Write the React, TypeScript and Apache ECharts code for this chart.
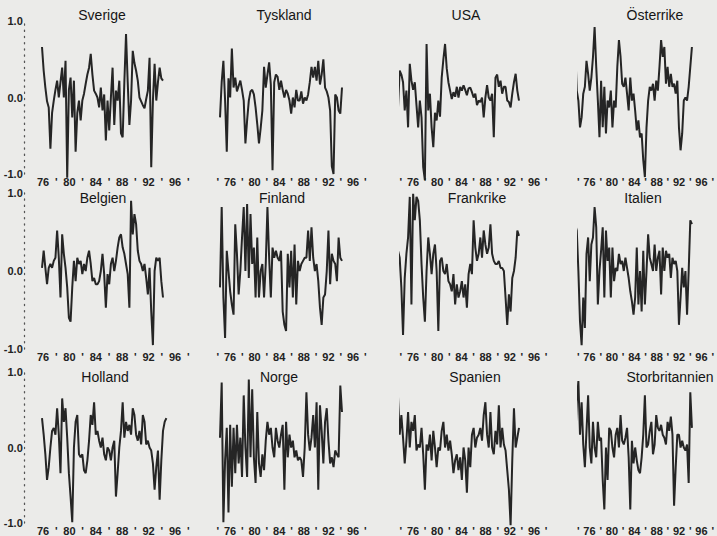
import React, { useEffect, useRef } from "react";
import * as echarts from "echarts";

// ---- data (quarterly values, starting 1976) ----
const startYear = 1976;
const stepYears = 0.25;

const countries = [
  "Sverige", "Tyskland", "USA", "Österrike",
  "Belgien", "Finland", "Frankrike", "Italien",
  "Holland", "Norge", "Spanien", "Storbritannien",
];

const sverige = [
  0.66, 0.35, 0.13, -0.05, -0.13, -0.67, -0.2, -0.04, 0.1, 0.22,
  0.0, 0.2, 0.39, 0.0, 0.48, -1.05, 0.1, 0.26, -0.26, 0.22,
  -0.71, -0.2, -0.04, -0.3, -0.04, 0.05, 0.18, 0.3, 0.39, 0.57,
  0.3, 0.09, 0.05, 0.0, -0.13, 0.13, -0.17, 0.04, -0.56, -0.04,
  -0.43, 0.0, 0.39, -0.36, 0.09, -0.04, 0.22, -0.47, -0.52, 0.2,
  0.83, 0.2, -0.36, -0.04, 0.61, 0.45, 0.35, 0.22, 0.0, -0.05,
  -0.1, -0.14, -0.02, 0.09, 0.52, -0.91, -0.04, 0.44, -0.04, 0.2,
  0.39, 0.25, 0.22,
];
const tyskland = [
  -0.26, 0.2, 0.48, -0.04, -0.71, 0.25, 0.0, 0.64, 0.13, 0.26,
  0.08, 0.15, 0.22, 0.1, -0.04, -0.6, -0.3, -0.04, 0.08, 0.1,
  0.04, -0.13, -0.35, -0.6, -0.4, -0.17, 0.4, 0.13, 0.3, 0.46,
  0.17, -0.95, 0.2, 0.3, 0.27, 0.1, 0.22, 0.1, 0.0, 0.1,
  0.05, -0.04, -0.21, 0.0, -0.13, 0.1, -0.04, -0.04, 0.08, -0.08,
  0.0, -0.04, 0.04, 0.2, 0.4, 0.26, 0.4, 0.22, 0.48, 0.17,
  0.3, 0.5, 0.13, 0.08, 0.0, -0.17, -0.9, -1.0, 0.04, 0.0,
  -0.17, -0.21, 0.13,
];
const usa = [
  -0.13, 0.35, 0.3, 0.2, -0.17, 0.09, -0.39, 0.44, 0.22, 0.1,
  0.2, -0.1, -0.39, -0.04, -0.26, -0.91, -1.08, 0.7, -0.17, 0.05,
  -0.39, -0.65, -0.2, -0.3, -0.04, -0.25, 0.26, 0.5, 0.7, 0.38,
  0.2, 0.09, -0.02, 0.07, 0.01, 0.14, 0.0, 0.14, 0.09, 0.16,
  0.1, 0.03, 0.12, 0.13, 0.07, 0.0, 0.05, -0.1, -0.04, -0.06,
  0.0, -0.26, 0.0, 0.16, 0.0, -0.04, 0.05, -0.52, 0.26, 0.3,
  0.14, 0.22, 0.05, 0.14, 0.14, -0.04, -0.06, -0.13, 0.05, 0.2,
  0.31, 0.09, -0.04,
];
const osterrike = [
  0.64, 0.09, -0.04, -0.39, -0.26, 0.05, 0.14, 0.48, 0.31, 0.09,
  0.26, 0.53, 0.92, 0.4, -0.04, -0.52, 0.22, -0.39, 0.14, -0.47,
  -0.04, -0.13, 0.09, -0.39, -0.04, -0.13, 0.4, 0.75, 0.53, 0.18,
  0.14, 0.26, 0.05, -0.17, 0.26, -0.04, 0.05, -0.17, -0.43, -0.3,
  -0.52, -0.47, -0.82, -1.04, -0.39, -0.04, 0.14, 0.09, 0.18, -0.04,
  0.22, 0.09, 0.4, 0.75, 0.53, 0.66, 0.18, 0.4, 0.14, 0.31,
  0.14, 0.18, 0.05, 0.22, -0.39, -0.69, -0.47, -0.04, 0.0, -0.04,
  0.14, 0.4, 0.66,
];
const belgien = [
  0.04, 0.26, 0.04, -0.17, 0.04, 0.09, 0.04, 0.13, 0.17, 0.52,
  0.17, -0.34, 0.47, 0.22, 0.04, -0.21, -0.6, -0.65, -0.21, 0.13,
  -0.13, 0.17, 0.09, 0.13, -0.04, 0.09, 0.0, 0.17, 0.26, 0.09,
  -0.13, -0.09, -0.17, -0.17, -0.13, 0.0, 0.22, -0.04, -0.47, -0.04,
  -0.17, 0.09, 0.17, 0.0, 0.13, 0.3, 0.43, 0.47, 0.3, 0.22,
  0.09, -0.04, -0.47, 0.9, 0.47, 0.73, 0.6, 0.26, 0.13, 0.09,
  0.0, 0.09, -0.09, -0.3, 0.04, -0.52, -0.95, 0.0, 0.17, 0.13,
  0.17, -0.13, -0.34,
];
const finland = [
  -0.21, 0.82, -0.34, -0.86, 0.26, 0.0, -0.26, -0.43, -0.56, 0.6,
  0.22, -0.3, 0.0, 0.43, 0.82, 0.0, 0.86, -0.09, 0.73, 0.09,
  0.3, -0.34, 0.43, -0.34, 0.0, 0.09, -0.34, 0.09, 0.82, 0.17,
  -0.34, 0.3, 0.17, 0.26, 0.17, 0.13, 0.26, -0.52, -0.69, -0.77,
  0.22, -0.21, 0.26, -0.34, 0.34, -0.43, 0.13, 0.0, 0.09, 0.13,
  0.17, 0.17, 0.52, 0.13, 0.56, 0.17, 0.0, 0.09, -0.13, -0.47,
  -0.69, -0.34, -0.3, 0.0, 0.52, -0.17, 0.22, 0.13, 0.09, -0.13,
  0.43, 0.17, 0.13,
];
const frankrike = [
  0.26, 0.17, -0.21, -0.82, -0.09, 0.22, 0.43, 0.95, -0.43, 0.99,
  0.65, 0.95, 0.9, 0.65, 0.09, -0.34, -0.65, 0.0, 0.43, 0.22,
  -0.04, 0.22, 0.34, 0.0, -0.77, 0.13, 0.17, 0.0, -0.04, 0.09,
  -0.13, -0.17, -0.26, -0.04, -0.43, -0.17, -0.34, -0.26, -0.13, -0.34,
  -0.17, -0.47, -0.04, 0.09, -0.04, 0.65, 0.3, 0.13, 0.22, 0.43,
  0.17, 0.52, 0.34, 0.22, 0.3, 0.6, 0.22, 0.13, 0.09, 0.09,
  0.13, 0.04, 0.04, 0.0, -0.34, -0.69, -0.3, -0.52, -0.09, 0.0,
  0.17, 0.52, 0.45,
];
const italien = [
  0.6, 0.52, 0.0, -0.65, -0.95, -0.34, -0.73, 0.22, 0.43, -0.13,
  0.34, 0.43, 0.82, 0.56, -0.43, 0.0, 0.26, 0.56, -0.34, 0.52,
  0.13, 0.3, -0.34, 0.3, -0.13, 0.04, 0.0, 0.22, 0.09, 0.13,
  0.0, 0.17, 0.04, -0.09, -0.26, -0.39, -0.56, -0.34, 0.3, -0.43,
  0.0, -0.52, 0.26, -0.43, 0.0, 0.47, 0.17, 0.09, 0.0, 0.34,
  0.0, 0.17, 0.26, -0.3, 0.3, 0.0, 0.26, 0.17, 0.22, -0.09,
  0.17, 0.09, 0.13, 0.0, -0.69, -0.34, 0.04, -0.21, 0.0, -0.56,
  0.0, 0.65, 0.6,
];
const holland = [
  0.39, 0.17, -0.09, -0.43, -0.26, 0.0, 0.22, 0.26, 0.17, 0.52,
  0.17, -0.34, 0.65, 0.34, 0.52, 0.13, -0.34, -0.65, -0.99, 0.0,
  0.34, 0.43, -0.09, -0.13, -0.09, -0.3, -0.34, -0.17, 0.09, 0.43,
  0.3, 0.6, 0.17, 0.22, 0.09, 0.0, 0.13, -0.09, -0.17, 0.0,
  -0.04, -0.17, 0.0, 0.09, -0.65, -0.34, 0.0, 0.22, 0.6, 0.13,
  0.34, 0.22, 0.3, 0.17, 0.52, 0.43, 0.17, 0.09, 0.22, 0.04,
  0.43, 0.34, 0.04, 0.09, 0.0, -0.04, -0.21, -0.56, -0.26, -0.04,
  -0.69, -0.17, 0.22, 0.34, 0.39,
];
const norge = [
  0.13, 0.86, -0.99, -0.17, 0.26, -0.86, 0.3, -0.52, 0.26, -0.34,
  0.3, -0.21, 0.13, -0.39, 0.69, 0.0, -0.39, 0.9, -0.13, 0.77,
  -0.13, -0.47, 0.47, -0.21, -0.39, -0.09, -0.3, 0.09, 0.34, 0.17,
  0.26, 0.0, -0.13, 0.26, 0.09, 0.0, 0.17, 0.3, -0.56, 0.34,
  -0.13, 0.17, 0.0, 0.09, -0.13, -0.04, -0.17, -0.13, -0.17, -0.39,
  0.0, 0.73, 0.17, -0.04, 0.13, 0.43, 0.0, 0.6, -0.56, 0.56,
  0.22, -0.21, 0.34, 0.52, 0.09, -0.21, -0.13, -0.26, -0.04, -0.09,
  -0.13, 0.82, 0.47,
];
const spanien = [
  0.67, 0.17, 0.43, 0.13, -0.21, 0.09, 0.47, 0.0, 0.34, 0.22,
  0.43, -0.04, 0.04, 0.0, 0.26, -0.09, -0.56, 0.04, -0.04, 0.17,
  -0.17, 0.22, 0.0, -0.26, 0.0, -0.04, 0.22, 0.34, 0.0, 0.17,
  -0.04, 0.09, -0.09, -0.34, -0.17, -0.09, -0.3, -0.13, -0.43, 0.0,
  -0.17, -0.6, 0.0, -0.26, 0.17, 0.26, 0.0, 0.13, 0.17, 0.26,
  0.09, 0.43, 0.6, 0.17, 0.0, 0.47, 0.0, -0.09, 0.22, 0.04,
  0.56, 0.0, 0.26, 0.04, -0.04, -0.3, -0.56, -1.03, -0.17, 0.52,
  0.0, 0.13, 0.26,
];
const storbritannien = [
  0.04, 0.6, 0.88, 0.17, 0.6, 0.04, -0.26, 0.22, 0.69, 0.0,
  -0.21, 0.34, 0.0, -0.13, 0.34, 0.09, 0.13, -0.43, -0.82, 0.0,
  -0.43, 0.26, 0.22, 0.0, -0.13, 0.17, 0.26, 0.0, 0.43, 0.09,
  0.04, 0.13, 0.26, -0.13, -0.82, 0.09, -0.21, 0.0, -0.17, -0.3,
  -0.34, -0.13, 0.17, 0.69, 0.0, 0.04, 0.22, 0.34, -0.09, 0.04,
  0.43, 0.26, 0.22, 0.3, 0.17, 0.13, 0.04, 0.34, 0.22, 0.41,
  0.17, -0.77, -0.26, 0.17, 0.17, 0.0, 0.09, 0.0, -0.04, 0.04,
  -0.47, 0.73, 0.26,
];

const seriesValues = [
  sverige, tyskland, usa, osterrike,
  belgien, finland, frankrike, italien,
  holland, norge, spanien, storbritannien,
];

const yTicks = [-1, 1];
const xLabelMin = 74;
const xLabelMax = 98;

// ---- layout (pixels) ----
const colLabel76 = [43, 230, 413, 590];
const colLabel96 = [175, 353, 534, 707];
const colData0 = [42, 220, 398, 575]; // pixel of 1976.0
const colData1 = [163, 342, 519, 697]; // pixel of 1994.0
const rowTop = [21, 193, 372];
const rowBottom = [174, 349, 527];
const titleX = [
  [102, 284, 466, 655],
  [103, 282, 477, 643],
  [105, 279, 475, 670],
];
const titleY = [16, 199, 378];

const FONT = "'Liberation Sans', Arial, Helvetica, sans-serif";
const INK = "#222";
const BG = "#ebebe9";

function buildOption() {
  const grids: any[] = [];
  const xAxes: any[] = [];
  const yAxes: any[] = [];
  const series: any[] = [];
  const titles: any[] = [];

  for (let k = 0; k < countries.length; k++) {
    const r = Math.floor(k / 4);
    const c = k % 4;
    const pxPerYr = (colLabel96[c] - colLabel76[c]) / 20;
    const left = colLabel76[c] - (76 - xLabelMin) * pxPerYr;
    const width = (xLabelMax - xLabelMin) * pxPerYr;
    const top = rowTop[r];
    const height = rowBottom[r] - rowTop[r];
    grids.push({ left, top, width, height, containLabel: false });

    // label axis (two-digit years)
    xAxes.push({
      type: "value",
      gridIndex: k,
      min: xLabelMin,
      max: xLabelMax,
      interval: 2,
      position: "bottom",
      axisLine: { show: false },
      axisTick: { show: false },
      splitLine: { show: false },
      axisLabel: {
        margin: 2,
        fontSize: 11,
        fontWeight: "bold",
        fontFamily: FONT,
        color: INK,
        showMinLabel: true,
        showMaxLabel: true,
        formatter: (v: number) => {
          const y = Math.round(v);
          if (c === 0 && y === xLabelMin) return "";
          return (y - 76) % 4 === 0 ? String(y) : "'";
        },
      },
    });

    // data axis (hidden), in calendar years
    const dataPx = (colData1[c] - colData0[c]) / 18;
    const dmin = startYear - (colData0[c] - left) / dataPx;
    const dmax = dmin + width / dataPx;
    xAxes.push({
      type: "value",
      gridIndex: k,
      min: dmin,
      max: dmax,
      position: "top",
      show: false,
    });

    yAxes.push({
      type: "value",
      gridIndex: k,
      min: yTicks[0],
      max: yTicks[1],
      interval: 1,
      show: c === 0,
      offset: 6,
      axisLine: {
        show: true,
        lineStyle: { color: "#555", width: 1.3, type: [1.2, 5] },
      },
      axisTick: { show: false },
      splitLine: { show: false },
      axisLabel: {
        margin: 0,
        fontSize: 11,
        fontWeight: "bold",
        fontFamily: FONT,
        color: INK,
        backgroundColor: BG,
        padding: [1, 1, 1, 0],
        formatter: (v: number) => v.toFixed(1),
      },
    });

    const vals = seriesValues[k];
    series.push({
      type: "line",
      name: countries[k],
      xAxisIndex: 2 * k + 1,
      yAxisIndex: k,
      data: vals.map((v, i) => [startYear + i * stepYears, v]),
      showSymbol: false,
      symbol: "none",
      clip: false,
      lineStyle: { color: "#252525", width: 2 },
    });

    titles.push({
      text: countries[k],
      left: titleX[r][c],
      top: titleY[r] - 8,
      textAlign: "center",
      padding: 0,
      textStyle: {
        fontSize: 14,
        fontWeight: "normal",
        fontFamily: FONT,
        color: "#151515",
      },
    });
  }

  return {
    animation: false,
    backgroundColor: BG,
    title: titles,
    grid: grids,
    xAxis: xAxes,
    yAxis: yAxes,
    series,
  };
}

export default function App() {
  const ref = useRef<HTMLDivElement>(null);
  useEffect(() => {
    if (!ref.current) return;
    const chart = echarts.init(ref.current, undefined, { renderer: "svg" });
    chart.setOption(buildOption() as any);
    return () => chart.dispose();
  }, []);
  return (
    <div
      ref={ref}
      style={{ position: "fixed", left: 0, top: 0, width: 717, height: 536 }}
    />
  );
}
